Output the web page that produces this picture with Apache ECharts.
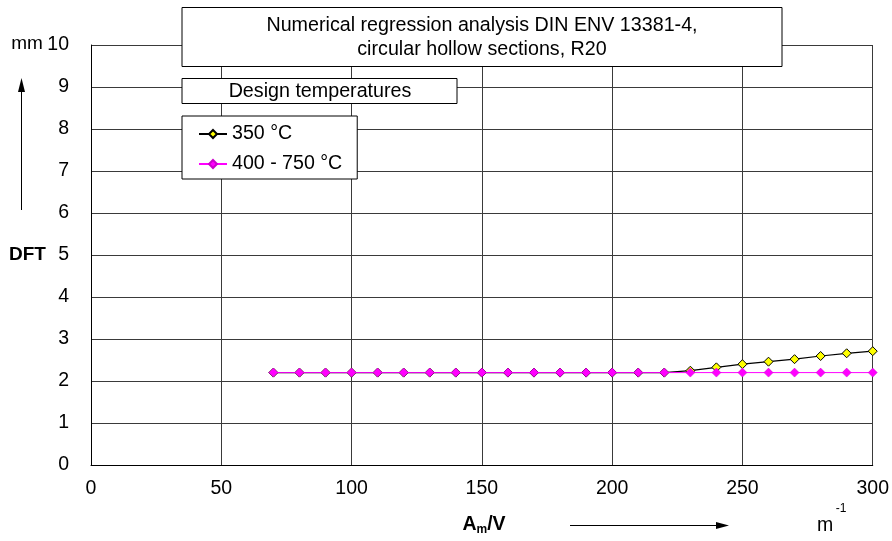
<!DOCTYPE html>
<html><head><meta charset="utf-8">
<script src="https://cdn.jsdelivr.net/npm/echarts@6/dist/echarts.min.js"></script>
<style>html,body{margin:0;padding:0;background:#fff}#c{width:892px;height:541px}</style>
</head><body><div id="c"></div>
<script>
const xValues = [70,80,90,100,110,120,130,140,150,160,170,180,190,200,210,220,230,240,250,260,270,280,290,300];
const dft350 = [2.2,2.2,2.2,2.2,2.2,2.2,2.2,2.2,2.2,2.2,2.2,2.2,2.2,2.2,2.2,2.2,2.245,2.325,2.40,2.46,2.52,2.595,2.66,2.71];
const dft400_750 = [2.2,2.2,2.2,2.2,2.2,2.2,2.2,2.2,2.2,2.2,2.2,2.2,2.2,2.2,2.2,2.2,2.2,2.2,2.2,2.2,2.2,2.2,2.2,2.2];
const seriesNames = ['350 °C','400 - 750 °C'];
const titleLines = ['Numerical regression analysis DIN ENV 13381-4,','circular hollow sections, R20'];
const legendTitle = 'Design temperatures';

const FONT = '"Liberation Sans", Arial, sans-serif';
const FS = 19.5;
const chart = echarts.init(document.getElementById('c'), null, {renderer:'canvas'});
const pair = (xs, ys) => xs.map((x,i)=>[x, ys[i]]);
const GRID = '#3a3a3a';

chart.setOption({
  animation:false,
  backgroundColor:'#fff',
  textStyle:{fontFamily:FONT},
  grid:{left:91, right:19, top:45, bottom:76, containLabel:false},
  xAxis:{type:'value', min:0, max:300, interval:50,
    axisLine:{show:true, lineStyle:{color:'#000', width:1}},
    axisTick:{show:false},
    axisLabel:{color:'#000', fontSize:FS, fontFamily:FONT, margin:14},
    splitLine:{show:true, lineStyle:{color:GRID, width:1}}},
  yAxis:{type:'value', min:0, max:10, interval:1,
    axisLine:{show:true, lineStyle:{color:'#000', width:1}},
    axisTick:{show:false},
    axisLabel:{color:'#000', fontSize:FS, fontFamily:FONT, margin:22},
    splitLine:{show:true, lineStyle:{color:GRID, width:1}}},
  legend:{show:true, orient:'vertical', left:182, top:116,
    itemWidth:28, itemHeight:10, itemGap:10,
    padding:[8,15,5,16],
    backgroundColor:'#fff', borderColor:'#000', borderWidth:1,
    textStyle:{color:'#000', fontSize:19.6, fontFamily:FONT},
    data:[seriesNames[0], seriesNames[1]]},
  series:[
    {name:seriesNames[0], type:'line', data:pair(xValues, dft350),
     symbol:'diamond', symbolSize:9, showSymbol:true,
     lineStyle:{color:'#000', width:1.2},
     itemStyle:{color:'#ffff00', borderColor:'#000', borderWidth:1}, z:2},
    {name:seriesNames[1], type:'line', data:pair(xValues, dft400_750),
     symbol:'diamond', symbolSize:9, showSymbol:true,
     lineStyle:{color:'#ff00ff', width:1},
     itemStyle:{color:'#ff00ff', borderColor:'#cc00cc', borderWidth:0.5}, z:3}
  ],
  graphic:[
    {type:'rect', shape:{x:182, y:7.5, width:600, height:59}, style:{fill:'#fff', stroke:'#000', lineWidth:1}, z:100},
    {type:'text', x:482, y:26, style:{text:titleLines[0], font:'19.7px '+FONT, fill:'#000', textAlign:'center', textVerticalAlign:'middle'}, z:101},
    {type:'text', x:482, y:49.5, style:{text:titleLines[1], font:'19.7px '+FONT, fill:'#000', textAlign:'center', textVerticalAlign:'middle'}, z:101},
    {type:'rect', shape:{x:182, y:78.5, width:275, height:25}, style:{fill:'#fff', stroke:'#000', lineWidth:1}, z:100},
    {type:'text', x:320, y:91.5, style:{text:legendTitle, font:'19.7px '+FONT, fill:'#000', textAlign:'center', textVerticalAlign:'middle'}, z:101},
    {type:'text', x:27, y:44, style:{text:'mm', font:'19px '+FONT, fill:'#000', textAlign:'center', textVerticalAlign:'middle'}},
    {type:'line', shape:{x1:21.5, y1:210, x2:21.5, y2:90}, style:{stroke:'#000', lineWidth:1}},
    {type:'polygon', shape:{points:[[21.5,78],[18,92],[25,92]]}, style:{fill:'#000'}},
    {type:'text', x:27.5, y:255, style:{text:'DFT', font:'bold 19px '+FONT, fill:'#000', textAlign:'center', textVerticalAlign:'middle'}},
    {type:'text', x:484, y:525, style:{text:'{a|A}{s|m}{a|/V}', rich:{a:{font:'bold '+FS+'px '+FONT, fill:'#000'}, s:{font:'bold 12px '+FONT, fill:'#000', padding:[9,0,0,0]}}, textAlign:'center', textVerticalAlign:'middle'}},
    {type:'line', shape:{x1:570, y1:525.5, x2:716, y2:525.5}, style:{stroke:'#000', lineWidth:1}},
    {type:'polygon', shape:{points:[[729,525.5],[716,522],[716,529]]}, style:{fill:'#000'}},
    {type:'text', x:825, y:526, style:{text:'m', font:FS+'px '+FONT, fill:'#000', textAlign:'center', textVerticalAlign:'middle'}},
    {type:'text', x:841, y:509, style:{text:'-1', font:'12px '+FONT, fill:'#000', textAlign:'center', textVerticalAlign:'middle'}}
  ]
});
</script></body></html>
